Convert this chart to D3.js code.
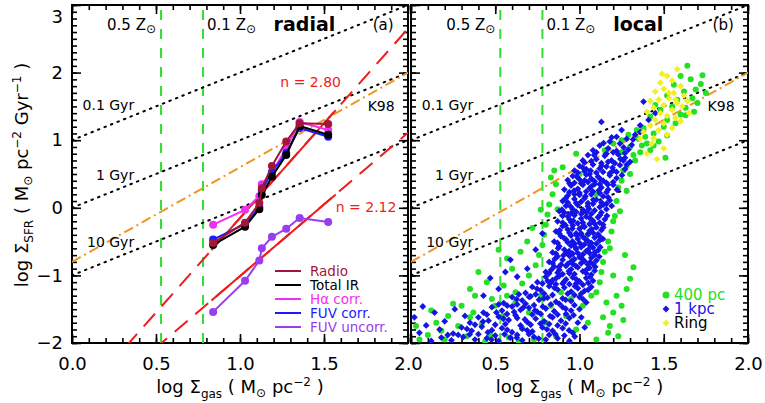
<!DOCTYPE html>
<html>
<head>
<meta charset="utf-8">
<script src="https://cdn.jsdelivr.net/npm/d3@7"></script>
<style>
body { margin: 0; background: #fff; }
text { font-family: "DejaVu Sans", sans-serif; }
</style>
</head>
<body>
<div id="chart"></div>
<script>
// radial profiles (panel a)
var radialGas = [1.525, 1.355, 1.275, 1.19, 1.13, 1.115, 1.03, 0.84];
var radio     = [1.24, 1.25, 0.98, 0.62, 0.29, 0.07, -0.22, -0.52];
var totalIR   = [1.08, 1.21, 0.78, 0.46, 0.19, -0.02, -0.28, -0.55];
var haCorr    = [1.15, 1.27, 0.88, 0.52, 0.35, 0.17, -0.03, -0.25];
var fuvCorr   = [1.05, 1.18, 0.81, 0.53, 0.26, 0.01, -0.24, -0.47];
var fuvUncorr = [-0.21, -0.15, -0.31, -0.43, -0.6, -0.78, -1.08, -1.54];
var seriesNames  = ['Radio', 'Total IR', 'H\u03b1 corr.', 'FUV corr.', 'FUV uncorr.'];
var seriesColors = ['#a3163a', '#000000', '#f030f0', '#1a1aff', '#9a3cf0'];

// reference lines
var depletionGyr = [0.1, 1, 10];
var depletionLabels = ['0.1 Gyr', '1 Gyr', '10 Gyr'];
var k98 = [1.4, -0.8];           // slope, intercept
var fitSlopes = [2.80, 2.12];
var fitIntercepts = [-2.95, -3.13];
var fitRange = [0.83, 1.57];
var metalGas = [0.53, 0.78];
var metalLabels = ['0.5', '0.1'];

// ticks
var xMajor = [0, 0.5, 1, 1.5, 2];
var yMajor = [-2, -1, 0, 1, 2, 3];
var xLabelsLeft = [0, 0.5, 1, 1.5, 2];
var xLabelsRight = [0.5, 1, 1.5, 2];

// local points (panel b): 400 pc, 1 kpc, ring
var pix400 = [
[1.64,2.1],[1.73,1.96],[1.72,1.83],[1.66,1.9],[1.6,1.95],[1.69,1.75],[1.75,1.7],[1.62,1.72],[1.56,1.82],[1.67,1.62],
[1.7,1.55],[1.58,1.6],[1.63,1.48],[1.52,1.66],[1.55,1.5],[1.48,1.45],[1.6,1.38],[1.63,1.37],[1.52,1.3],[1.45,1.52],
[1.42,1.35],[1.5,1.2],[1.57,1.25],[1.38,1.18],[1.44,1.1],[1.52,1.07],[1.35,1.02],[1.4,0.95],[1.47,0.98],[1.3,0.9],
[1.36,0.82],[1.51,0.74],[1.33,0.7],[1.28,0.62],[1.42,0.85],[1.68,1.42],
[1.34,1.15],[1.29,1.08],[1.39,1.05],[1.32,0.78],[1.25,0.82],[1.44,0.92],[1.37,0.92],
[1.25,0.4],[1.28,0.25],[1.22,0.1],[1.24,-0.05],[1.2,-0.2],[1.19,-0.35],[1.17,-0.5],[1.15,-0.65],[1.14,-0.8],[1.13,-0.95],
[1.12,-1.1],[1.1,-1.25],[1.3,0.5],[1.26,0.55],[1.21,-0.12],[1.23,0.3],[1.18,-0.6],
[0.85,0.55],[0.9,0.6],[0.86,0.35],[0.84,0.2],[0.82,0.05],[0.81,-0.1],[0.8,-0.25],[0.79,-0.4],[0.78,-0.55],[0.76,-0.7],
[0.74,-0.85],[0.7,-1.0],[0.66,-1.12],[0.83,0.45],[0.87,-0.02],[0.77,-0.03],[0.69,-0.5],[0.72,-0.3],
[1.0,0.5],[1.05,-0.4],[0.95,-0.7],[1.1,0.2],[0.98,0.8],[1.15,0.85],[1.2,0.95],[1.25,1.0],
[0.52,-0.62],[0.6,-0.9],[0.45,-1.1],[0.55,-1.15],[0.62,-1.25],[0.38,-1.3],[0.3,-1.45],[0.48,-1.35],[0.57,-0.75],[0.65,-0.65],
[0.4,-0.95],[0.35,-1.2],
[1.32,-0.88],[1.26,-1.66],[1.22,-1.3],[1.25,-1.45],[1.2,-1.55],[1.18,-1.75],[1.23,-1.9],[1.28,-1.2],[1.16,-1.4],[1.3,-1.05],
[1.2,-1.0],[1.27,-0.7],[1.17,-1.85],[1.14,-1.62],[1.1,-1.95],
[0.05,-1.95],[0.1,-1.88],[0.15,-1.7],[0.2,-1.95],[0.22,-1.6],[0.28,-1.75],[0.33,-1.9],[0.37,-1.55],[0.42,-1.72],[0.47,-1.88],
[0.5,-1.45],[0.55,-1.6],[0.58,-1.92],[0.62,-1.4],[0.66,-1.78],[0.7,-1.55],[0.73,-1.95],[0.77,-1.3],[0.8,-1.7],[0.83,-1.45],
[0.86,-1.9],[0.89,-1.25],[0.92,-1.6],[0.95,-1.35],[0.98,-1.8],[1.02,-1.45],[1.05,-1.7],[1.07,-1.3],[0.12,-1.52],[0.25,-1.42],
[0.03,-1.75],[0.18,-1.82],[0.44,-1.98],[0.64,-1.98],[0.35,-1.62],[0.57,-1.3]
];
var kpc1 = [
[1.22,1.05],[1.28,1.02],[1.33,1.08],[1.18,0.98],[1.36,1.12],
[1.12,0.92],[1.17,0.88],[1.24,0.95],[1.29,0.86],[1.2,0.82],[1.08,0.85],[1.31,0.93],
[1.1,0.82],[1.16,0.8],[1.22,0.84],[1.27,0.81],
[1.05,0.78],[1.1,0.72],[1.15,0.77],[1.19,0.7],[1.23,0.79],[1.27,0.74],[1.13,0.66],[1.02,0.7],[1.3,0.68],
[1.03,0.67],[1.07,0.69],[1.17,0.68],[1.21,0.66],[1.26,0.7],
[1.0,0.62],[1.04,0.57],[1.08,0.64],[1.12,0.58],[1.16,0.61],[1.2,0.55],[1.24,0.63],[1.1,0.52],[0.97,0.55],[1.27,0.57],
[0.99,0.52],[1.03,0.54],[1.14,0.53],[1.18,0.51],[1.22,0.53],[1.06,0.5],
[0.96,0.47],[1.0,0.42],[1.04,0.49],[1.07,0.43],[1.11,0.46],[1.14,0.4],[1.18,0.48],[1.22,0.44],[1.05,0.38],[0.93,0.41],
[0.97,0.37],[1.01,0.36],[1.09,0.39],[1.16,0.37],[1.2,0.38],[1.12,0.35],
[0.95,0.33],[0.99,0.28],[1.02,0.34],[1.06,0.29],[1.09,0.35],[1.13,0.3],[1.17,0.27],[1.2,0.34],[1.04,0.24],[0.91,0.27],
[0.94,0.23],[1.0,0.22],[1.08,0.24],[1.12,0.22],[1.16,0.23],[0.97,0.2],
[0.93,0.18],[0.97,0.13],[1.0,0.19],[1.03,0.14],[1.07,0.2],[1.1,0.12],[1.14,0.17],[1.18,0.11],[1.05,0.07],[0.9,0.1],
[0.93,0.08],[0.98,0.07],[1.01,0.09],[1.08,0.06],[1.13,0.08],[1.16,0.06],
[0.92,0.03],[0.96,-0.02],[0.99,0.04],[1.02,-0.03],[1.05,0.02],[1.09,-0.04],[1.12,0.01],[1.16,-0.02],[1.01,-0.09],[0.88,-0.05],
[0.91,-0.07],[0.95,-0.08],[1.04,-0.07],[1.07,-0.09],[1.13,-0.07],[0.98,-0.06],
[0.9,-0.12],[0.94,-0.17],[0.97,-0.11],[1.01,-0.16],[1.04,-0.13],[1.08,-0.19],[1.11,-0.14],[1.15,-0.17],[0.99,-0.23],[0.87,-0.2],
[0.9,-0.22],[0.95,-0.21],[1.02,-0.22],[1.06,-0.24],[1.12,-0.22],[1.14,-0.25],
[0.9,-0.27],[0.93,-0.32],[0.96,-0.26],[1.0,-0.31],[1.03,-0.28],[1.06,-0.34],[1.1,-0.29],[1.13,-0.33],[0.98,-0.38],[0.86,-0.35],
[0.88,-0.38],[0.94,-0.37],[1.01,-0.38],[1.05,-0.39],[1.08,-0.37],[1.11,-0.39],
[0.89,-0.42],[0.92,-0.47],[0.95,-0.41],[0.99,-0.46],[1.02,-0.43],[1.05,-0.49],[1.09,-0.44],[1.12,-0.48],[0.97,-0.53],[0.85,-0.5],
[0.87,-0.52],[0.93,-0.51],[1.0,-0.52],[1.03,-0.54],[1.07,-0.52],[1.1,-0.53],
[0.88,-0.57],[0.91,-0.62],[0.95,-0.56],[0.98,-0.61],[1.01,-0.58],[1.04,-0.64],[1.08,-0.59],[1.11,-0.63],[0.96,-0.68],[0.84,-0.66],
[0.86,-0.68],[0.92,-0.67],[0.99,-0.67],[1.02,-0.69],[1.06,-0.67],[1.09,-0.7],
[0.87,-0.72],[0.9,-0.77],[0.94,-0.71],[0.97,-0.76],[1.0,-0.73],[1.03,-0.79],[1.07,-0.74],[1.1,-0.78],[0.93,-0.83],[0.82,-0.8],
[0.84,-0.82],[0.89,-0.84],[0.96,-0.83],[1.01,-0.82],[1.05,-0.84],[1.08,-0.83],
[0.85,-0.87],[0.88,-0.92],[0.92,-0.86],[0.95,-0.91],[0.99,-0.88],[1.02,-0.94],[1.06,-0.89],[1.09,-0.93],[0.9,-0.98],[0.8,-0.95],
[0.82,-0.97],[0.87,-0.96],[0.94,-0.97],[0.97,-0.98],[1.04,-0.97],[1.07,-0.99],
[0.8,-1.02],[0.84,-1.07],[0.88,-1.01],[0.92,-1.06],[0.96,-1.03],[1.0,-1.09],[1.04,-1.04],[1.08,-1.08],[0.86,-1.13],[0.75,-1.1],
[0.78,-1.12],[0.83,-1.11],[0.9,-1.12],[0.94,-1.13],[0.98,-1.12],[1.02,-1.14],
[0.72,-1.17],[0.77,-1.22],[0.82,-1.16],[0.87,-1.21],[0.91,-1.18],[0.95,-1.24],[0.99,-1.19],[1.03,-1.23],[1.07,-1.17],[0.68,-1.26],
[0.64,-1.28],[0.74,-1.28],[0.79,-1.27],[0.84,-1.29],[0.93,-1.27],[0.97,-1.29],[1.01,-1.27],
[0.6,-1.32],[0.66,-1.37],[0.71,-1.31],[0.76,-1.36],[0.81,-1.33],[0.86,-1.39],[0.9,-1.34],[0.95,-1.38],[1.0,-1.32],[1.04,-1.4],[0.55,-1.41],
[0.52,-1.43],[0.63,-1.43],[0.68,-1.42],[0.73,-1.44],[0.83,-1.43],[0.88,-1.42],[0.97,-1.44],
[0.48,-1.47],[0.54,-1.52],[0.6,-1.46],[0.65,-1.51],[0.7,-1.48],[0.75,-1.54],[0.8,-1.49],[0.85,-1.53],[0.9,-1.47],[0.95,-1.52],[1.0,-1.5],[0.43,-1.55],
[0.45,-1.58],[0.57,-1.57],[0.62,-1.59],[0.72,-1.58],[0.77,-1.57],[0.87,-1.58],[0.92,-1.57],
[0.4,-1.62],[0.46,-1.67],[0.52,-1.61],[0.58,-1.66],[0.63,-1.63],[0.69,-1.69],[0.74,-1.64],[0.79,-1.68],[0.84,-1.62],[0.89,-1.67],[0.94,-1.63],[0.99,-1.7],[0.35,-1.7],
[0.38,-1.73],[0.5,-1.73],[0.56,-1.72],[0.65,-1.74],[0.71,-1.73],[0.82,-1.72],[0.87,-1.74],
[0.3,-1.77],[0.36,-1.82],[0.42,-1.76],[0.48,-1.81],[0.54,-1.78],[0.6,-1.84],[0.66,-1.79],[0.72,-1.83],[0.78,-1.77],[0.84,-1.82],[0.9,-1.78],[0.96,-1.85],[0.25,-1.86],
[0.28,-1.88],[0.4,-1.87],[0.5,-1.89],[0.63,-1.88],[0.7,-1.87],[0.82,-1.88],[0.91,-1.89],
[0.18,-1.92],[0.24,-1.96],[0.31,-1.91],[0.38,-1.95],[0.45,-1.93],[0.52,-1.97],[0.59,-1.92],[0.66,-1.96],[0.73,-1.91],[0.8,-1.95],[0.87,-1.93],[0.94,-1.97],
[0.02,-1.62],[0.05,-1.85],[0.09,-1.74],[0.12,-1.97],[0.14,-1.55],[0.2,-1.68],[0.07,-1.46],[0.26,-1.5],[0.17,-1.8],[0.32,-1.6],
[0.47,-1.04],[0.59,-0.77],[0.52,-1.2],[0.63,-1.02],[0.69,-0.9],[0.43,-1.3],[0.74,-0.62],[0.78,-0.38],[0.56,-0.95],
[1.13,1.27],[1.38,1.57],[1.41,1.3],[1.36,1.22],[1.45,1.4],[1.25,1.15],
[1.143,0.957],[1.262,0.893],[1.318,1.011],[1.191,1.041],[1.087,0.781],[1.243,0.722],[1.281,0.639],[1.018,0.598],[1.131,0.621],[1.196,0.593],
[1.066,0.548],[0.983,0.463],[1.125,0.421],[1.252,0.482],[1.031,0.405],[1.168,0.344],[0.941,0.358],[1.071,0.318],[1.223,0.267],[0.968,0.252],
[1.115,0.258],[1.035,0.171],[1.171,0.152],[0.918,0.142],[1.082,0.118],[1.142,0.046],[0.947,0.021],[1.056,-0.018],[1.191,0.028],[0.896,-0.027],
[1.021,-0.056],[1.121,-0.112],[0.931,-0.128],[1.061,-0.152],[0.963,-0.192],[1.163,-0.118],[1.091,-0.238],[0.917,-0.258],[1.021,-0.273],[1.141,-0.291],
[0.958,-0.308],[1.072,-0.317],[0.882,-0.333],[0.985,-0.412],[1.118,-0.421],[0.908,-0.448],[1.037,-0.468],[1.139,-0.461],[0.958,-0.497],[1.063,-0.558],
[0.873,-0.597],[0.977,-0.588],[1.123,-0.582],[0.938,-0.641],[1.051,-0.621],[1.091,-0.658],[0.905,-0.703],[1.016,-0.752],[1.117,-0.721],[0.853,-0.759],
[0.951,-0.791],[1.061,-0.809],[0.877,-0.879],[0.978,-0.861],[1.093,-0.872],[0.832,-0.918],[0.937,-0.938],[1.041,-0.918],[0.862,-1.041],[0.981,-1.058],
[1.063,-1.022],[0.811,-1.081],[0.909,-1.091],[1.052,-1.112],[0.748,-1.198],[0.851,-1.183],[0.973,-1.161],[1.052,-1.212],[0.701,-1.318],[0.789,-1.341],
[0.918,-1.362],[1.021,-1.352],[0.627,-1.352],[0.571,-1.448],[0.668,-1.472],[0.782,-1.462],[0.918,-1.493],[0.507,-1.548],[0.612,-1.541],[0.736,-1.518],
[0.826,-1.602],[0.965,-1.588],[0.427,-1.683],[0.548,-1.641],[0.676,-1.652],[0.768,-1.712],[0.918,-1.712],[0.332,-1.792],[0.456,-1.842],[0.571,-1.806],
[0.689,-1.812],[0.807,-1.798],[0.938,-1.812],[0.218,-1.882],[0.348,-1.873],[0.478,-1.951],[0.555,-1.872],[0.628,-1.921],[0.758,-1.934],[0.856,-1.868],
[0.972,-1.905],[1.011,-1.62],[1.031,-1.77]
];
var ring = [
[1.58,2.05],[1.52,1.95],[1.55,1.88],[1.48,1.85],[1.6,1.8],[1.5,1.76],[1.45,1.72],[1.56,1.7],[1.62,1.66],[1.53,1.62],
[1.47,1.6],[1.42,1.58],[1.58,1.55],[1.5,1.52],[1.44,1.48],[1.55,1.45],[1.61,1.5],[1.48,1.4],[1.52,1.36],[1.4,1.42],
[1.57,1.33],[1.45,1.3],[1.5,1.25],[1.42,1.22],[1.55,1.18],[1.47,1.15],[1.38,1.12],[1.52,1.08],[1.44,1.03],[1.6,1.28],
[1.65,1.4],[1.43,0.95],[1.5,0.88],[1.4,0.8],[1.46,0.72],[1.36,1.02],[1.53,1.7],[1.64,1.58],[1.49,1.98],[1.57,1.6]
];
var localNames = ['400 pc', '1 kpc', 'Ring'];
var localColors = ['#22e022', '#1414e6', '#f2f020'];

var width = 765, height = 403;
var svg = d3.select('#chart').append('svg')
    .attr('width', width)
    .attr('height', height);

var yScale = d3.scaleLinear().domain([-2, 3]).range([343, 5]);
var xLeft = d3.scaleLinear().domain([0, 2]).range([72, 408]);
var xRight = d3.scaleLinear().domain([0, 2]).range([411, 748]);

var diamond = 'M0,-3.4L3.4,0L0,3.4L-3.4,0Z';

// text with sub/superscripts: parts = [[text, shift, size]]
function richText(sel, parts, baseSize) {
    var cur = 0;
    parts.forEach(function (p) {
        var shift = p[1] || 0;
        sel.append('tspan')
            .attr('dy', shift - cur)
            .style('font-size', (p[2] || baseSize) + 'px')
            .text(p[0]);
        cur = shift;
    });
}

function axes(x, showY, xLabels, id) {
    var x0 = x.range()[0], x1 = x.range()[1];
    var g = svg.append('g');
    var minX = d3.range(0, 2.001, 0.1), minY = d3.range(-2, 3.001, 0.1);
    var fmtX = function (d) { return xLabels.indexOf(d) >= 0 ? d3.format('.1f')(d) : ''; };
    var list = [
        [d3.axisBottom(x).tickValues(xMajor).tickSize(-9).tickPadding(14).tickFormat(fmtX), 0, 343],
        [d3.axisBottom(x).tickValues(minX).tickSize(-5).tickFormat(''), 0, 343],
        [d3.axisTop(x).tickValues(xMajor).tickSize(-9).tickFormat(''), 0, 5],
        [d3.axisTop(x).tickValues(minX).tickSize(-5).tickFormat(''), 0, 5],
        [d3.axisLeft(yScale).tickValues(yMajor).tickSize(-9).tickPadding(9)
            .tickFormat(showY ? d3.format('d') : ''), x0, 0],
        [d3.axisLeft(yScale).tickValues(minY).tickSize(-5).tickFormat(''), x0, 0],
        [d3.axisRight(yScale).tickValues(yMajor).tickSize(-9).tickFormat(''), x1, 0],
        [d3.axisRight(yScale).tickValues(minY).tickSize(-5).tickFormat(''), x1, 0]
    ];
    list.forEach(function (a) {
        var ax = g.append('g').attr('transform', 'translate(' + a[1] + ',' + a[2] + ')').call(a[0]);
        ax.select('.domain').remove();
        ax.selectAll('line').attr('stroke-width', 1.6);
        ax.selectAll('text').style('font-size', '18px').attr('fill', '#000');
    });
    // top label "3" kept inside the picture
    g.selectAll('.tick text').filter(function (d) { return d === 3; }).attr('dy', '0.95em');

    svg.append('rect')
        .attr('x', x0).attr('y', 5)
        .attr('width', x1 - x0).attr('height', 338)
        .attr('fill', 'none').attr('stroke', '#000').attr('stroke-width', 2);

    // x title
    var t = svg.append('text')
        .attr('x', (x0 + x1) / 2).attr('y', 393)
        .attr('text-anchor', 'middle').style('font-size', '18px');
    richText(t, [['log \u03a3'], ['gas', 5, 12], [' ( M', 0], ['\u2299', 4, 12], [' pc', 0], ['\u22122', -7, 12], [' )', 0]], 18);

    svg.append('clipPath').attr('id', id)
        .append('rect').attr('x', x0).attr('y', 5).attr('width', x1 - x0).attr('height', 338);
}

function refLines(x, clipId) {
    var g = svg.append('g').attr('clip-path', 'url(#' + clipId + ')');
    var line = d3.line().x(function (d) { return x(d[0]); }).y(function (d) { return yScale(d[1]); });

    // metallicity thresholds
    metalGas.forEach(function (m) {
        g.append('path').attr('d', line([[m, -2], [m, 3]]))
            .attr('stroke', '#33dd33').attr('stroke-width', 2)
            .attr('stroke-dasharray', '10,9').attr('fill', 'none');
    });
    // depletion times
    depletionGyr.forEach(function (t) {
        var c = -Math.log10(t);
        g.append('path').attr('d', line([[0, c], [2, 2 + c]]))
            .attr('stroke', '#000').attr('stroke-width', 2)
            .attr('stroke-dasharray', '1.5,5.5').attr('stroke-linecap', 'round').attr('fill', 'none');
    });
    // K98
    g.append('path').attr('d', line([[0, k98[1]], [2, 2 * k98[0] + k98[1]]]))
        .attr('stroke', '#f0961e').attr('stroke-width', 2)
        .attr('stroke-dasharray', '10,4,2,4').attr('fill', 'none');
    return g;
}

function labels(x, panelWord, panelTag) {
    var g = svg.append('g').style('font-size', '14px');
    metalLabels.forEach(function (m, i) {
        var tx = g.append('text')
            .attr('x', i === 0 ? x(metalGas[i]) - 5 : x(metalGas[i]) + 4)
            .attr('y', 30)
            .attr('text-anchor', i === 0 ? 'end' : 'start');
        richText(tx, [[m + ' Z', 0], ['\u2299', 3, 12]], 15);
    });
    g.append('text').attr('x', x(1.2)).attr('y', 31)
        .style('font-size', '19px').style('font-weight', 'bold').text(panelWord);
    g.append('text').attr('x', x(1.79)).attr('y', 30)
        .style('font-size', '15px').text(panelTag);
    var gyrY = [110, 180, 247];
    depletionLabels.forEach(function (l, i) {
        g.append('text').attr('x', x(0.37)).attr('y', gyrY[i])
            .attr('text-anchor', 'end').text(l);
    });
    g.append('text').attr('x', x(1.76)).attr('y', 111).text('K98');
}

// ---------- panel (a) ----------
axes(xLeft, true, xLabelsLeft, 'clipA');
var ga = refLines(xLeft, 'clipA');
var lineA = d3.line().x(function (d) { return xLeft(d[0]); }).y(function (d) { return yScale(d[1]); });
fitSlopes.forEach(function (s, i) {
    var b = fitIntercepts[i];
    ga.append('path').attr('d', lineA([[0, b], [2, 2 * s + b]]))
        .attr('stroke', '#ee1c1c').attr('stroke-width', 2)
        .attr('stroke-dasharray', '17,10').attr('fill', 'none');
    ga.append('path').attr('d', lineA([[fitRange[0], fitRange[0] * s + b], [fitRange[1], fitRange[1] * s + b]]))
        .attr('stroke', '#ee1c1c').attr('stroke-width', 2).attr('fill', 'none');
});
var seriesData = [fuvUncorr, haCorr, fuvCorr, totalIR, radio];
var seriesIdx = [4, 2, 3, 1, 0];
seriesData.forEach(function (s, k) {
    var col = seriesColors[seriesIdx[k]];
    var pts = radialGas.map(function (g, i) { return [g, s[i]]; });
    ga.append('path').attr('d', lineA(pts))
        .attr('stroke', col).attr('stroke-width', 2).attr('fill', 'none');
    ga.selectAll(null).data(pts).enter().append('circle')
        .attr('cx', function (d) { return xLeft(d[0]); })
        .attr('cy', function (d) { return yScale(d[1]); })
        .attr('r', 4).attr('fill', col);
});
labels(xLeft, 'radial', '(a)');
var fitLabelPos = [[1.24, 87], [1.57, 212]];
fitSlopes.forEach(function (s, i) {
    svg.append('text').attr('x', xLeft(fitLabelPos[i][0])).attr('y', fitLabelPos[i][1])
        .attr('fill', '#ee1c1c').style('font-size', '14px')
        .text('n = ' + d3.format('.2f')(s));
});
var legA = svg.append('g').attr('transform', 'translate(275,271)');
seriesNames.forEach(function (n, i) {
    legA.append('line').attr('x1', 0).attr('x2', 26).attr('y1', i * 14).attr('y2', i * 14)
        .attr('stroke', seriesColors[i]).attr('stroke-width', 2);
    legA.append('text').attr('x', 35).attr('y', i * 14 + 5)
        .attr('fill', seriesColors[i]).style('font-size', '13.5px').text(n);
});

// ---------- panel (b) ----------
axes(xRight, false, xLabelsRight, 'clipB');
var gb = refLines(xRight, 'clipB');
gb.selectAll('.p400').data(pix400).enter().append('circle')
    .attr('cx', function (d) { return xRight(d[0]); })
    .attr('cy', function (d) { return yScale(d[1]); })
    .attr('r', 3).attr('fill', localColors[0]);
gb.selectAll('.p1k').data(kpc1).enter().append('path')
    .attr('d', diamond)
    .attr('transform', function (d) { return 'translate(' + xRight(d[0]) + ',' + yScale(d[1]) + ')'; })
    .attr('fill', localColors[1]);
gb.selectAll('.pring').data(ring).enter().append('path')
    .attr('d', diamond)
    .attr('transform', function (d) { return 'translate(' + xRight(d[0]) + ',' + yScale(d[1]) + ')'; })
    .attr('fill', localColors[2]);
labels(xRight, 'local', '(b)');
var legB = svg.append('g').attr('transform', 'translate(666,295)');
localNames.forEach(function (n, i) {
    if (i === 0) {
        legB.append('circle').attr('cx', 0).attr('cy', 0).attr('r', 3.5).attr('fill', localColors[0]);
    } else {
        legB.append('path').attr('d', diamond).attr('transform', 'translate(0,' + i * 14 + ')').attr('fill', localColors[i]);
    }
    legB.append('text').attr('x', 8).attr('y', i * 14 + 5)
        .attr('fill', i === 2 ? '#000' : localColors[i]).style('font-size', '15px').text(n);
});

// y title
var yt = svg.append('text')
    .attr('transform', 'translate(28,175) rotate(-90)')
    .attr('text-anchor', 'middle').style('font-size', '18px');
richText(yt, [['log \u03a3'], ['SFR', 5, 12], [' ( M', 0], ['\u2299', 4, 12], [' pc', 0], ['\u22122', -7, 12],
    [' Gyr', 0], ['\u22121', -7, 12], [' )', 0]], 18);
</script>
</body>
</html>
